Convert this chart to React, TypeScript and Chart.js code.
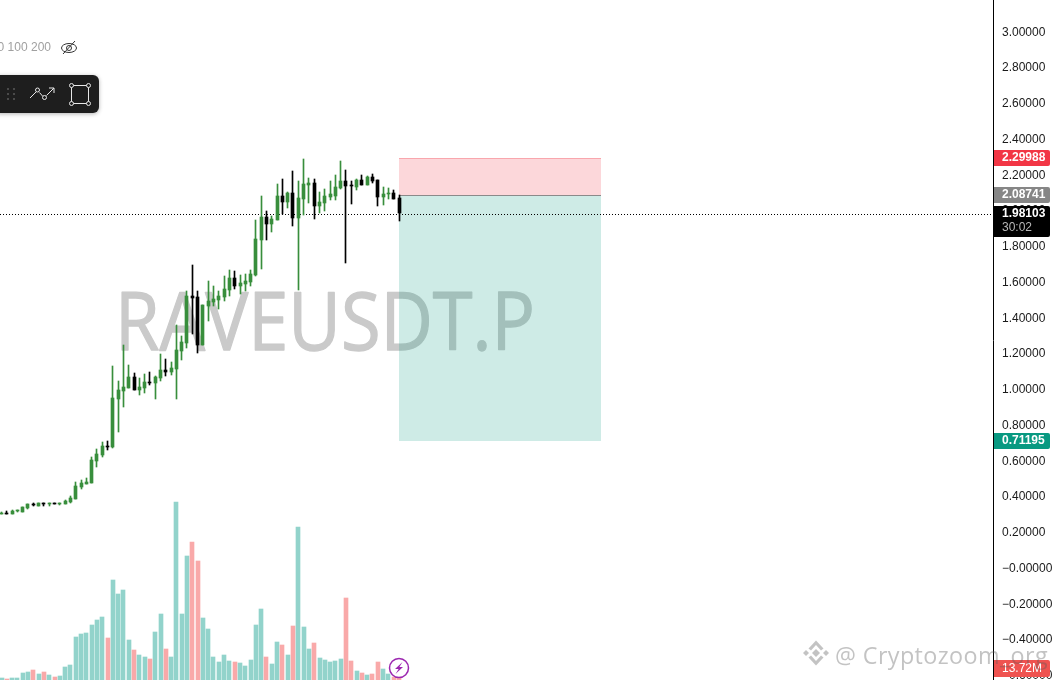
import React, { useEffect, useRef } from "react";
import { Chart, registerables } from "chart.js";

Chart.register(...registerables);

const opens = [.307,.311,.307,.321,.318,.341,.361,.350,.365,.361,.365,.361,.361,.371,.389,.456,.472,.479,.602,.636,.686,.679,.949,.994,1.010,1.072,.999,1.010,1.042,1.038,1.066,1.111,1.100,1.117,1.218,1.262,1.525,1.520,1.251,1.469,1.492,1.503,1.520,1.559,1.626,1.581,1.592,1.604,1.643,1.839,1.967,1.928,1.951,2.085,2.051,2.102,1.962,2.068,2.146,2.158,2.029,2.046,2.079,2.085,2.130,2.169,2.146,2.135,2.174,2.146,2.191,2.174,2.079,2.096,2.102,2.074];
const closes = [.313,.305,.322,.324,.345,.361,.357,.367,.360,.365,.363,.365,.376,.395,.462,.477,.483,.608,.641,.686,.682,.955,.999,1.016,1.072,.999,1.016,1.044,1.038,1.072,1.111,1.102,1.122,1.223,1.266,1.525,1.514,1.251,1.475,1.497,1.509,1.525,1.564,1.626,1.581,1.598,1.609,1.648,1.844,1.967,1.928,1.956,2.085,2.051,2.102,1.962,2.074,2.152,2.158,2.029,2.051,2.085,2.096,2.135,2.169,2.141,2.141,2.174,2.146,2.191,2.169,2.079,2.096,2.102,2.068,1.987];
const highs = [.317,.319,.328,.329,.346,.361,.369,.367,.365,.365,.365,.365,.384,.406,.483,.496,.507,.624,.669,.708,.714,1.134,1.050,1.251,1.139,1.094,1.066,1.089,1.100,1.078,1.201,1.173,1.156,1.363,1.301,1.553,1.699,1.553,1.475,1.609,1.581,1.553,1.637,1.671,1.665,1.643,1.648,1.671,1.951,2.085,2.001,1.973,2.152,2.180,2.107,2.225,2.169,2.292,2.186,2.180,2.107,2.124,2.169,2.202,2.281,2.230,2.169,2.180,2.202,2.197,2.208,2.174,2.135,2.130,2.119,2.090];
const lows = [.307,.303,.307,.318,.318,.335,.352,.350,.350,.352,.363,.356,.361,.369,.389,.445,.472,.479,.568,.626,.664,.675,.764,.904,1.010,.999,.971,.983,1.027,.949,1.050,1.078,1.083,.949,1.167,1.234,1.313,1.206,1.251,1.385,1.469,1.453,1.497,1.525,1.564,1.536,1.553,1.581,1.637,1.676,1.839,1.883,1.951,1.984,2.018,1.917,1.559,1.979,2.046,1.956,1.990,2.001,2.063,2.063,2.124,1.710,2.040,2.118,2.146,2.146,2.158,2.029,2.034,2.068,2.068,1.945];
const volumes = [2.3,1.1,2.3,2.3,8,9.1,11.4,6.8,9.1,5.7,3.4,4.6,14.8,17.1,49,52.4,53.6,62.7,68.4,71.8,47.9,114,98,102.6,45.6,34.2,28.5,26.2,23.9,54.7,75.2,35.3,26.2,202.9,75.2,141.4,157.3,135.7,70.7,58.1,26.2,20.5,28.5,21.7,20.5,19.4,16,22.8,62.7,80.9,26.2,18.2,43.3,39.9,28.5,61.6,174.4,60.4,35.3,42.2,25.1,22.8,20.5,21.7,23.9,93.5,21.7,10.3,8,5.7,6.8,20.5,12.5,6.8,3.4,13.72];
const volumeDown = [0,1,0,0,0,0,1,0,1,0,1,0,0,0,0,0,0,0,0,0,1,0,0,0,0,1,0,0,1,0,0,1,0,0,0,0,1,1,0,0,0,0,0,0,1,0,0,0,0,0,1,0,0,1,0,1,0,0,0,1,0,0,0,0,0,1,1,0,1,0,1,1,0,0,1,1];
const priceTicks = [3.2,3,2.8,2.6,2.4,2.2,2,1.8,1.6,1.4,1.2,1,0.8,0.6,0.4,0.2,0,-0.2,-0.4,-0.6];
const priceTickLabels = ["3.20000","3.00000","2.80000","2.60000","2.40000","2.20000","2.00000","1.80000","1.60000","1.40000","1.20000","1.00000","0.80000","0.60000","0.40000","0.20000","\u22120.00000","\u22120.20000","\u22120.40000","\u22120.60000"];
const stopPrice = 2.29988;
const entryPrice = 2.08741;
const lastPrice = 1.98103;
const targetPrice = 0.71195;
const countdown = "30:02";
const volumeLabel = "13.72M";
const symbolMark = "RAVEUSDT.P";
const creditMark = "@ Cryptozoom_org";
const maLengths = "50 100 200";
const toolStartIndex = 75;
const toolEndIndex = 113.1;

const FONT = '"Liberation Sans", Arial, sans-serif';
const GREEN = "#388e3c";
const indices = opens.map((_, i) => i);

function rr(c: CanvasRenderingContext2D, x: number, y: number, w: number, h: number, r: number[]) {
  c.beginPath();
  c.roundRect(x, y, w, h, r);
}

function priceTag(c: CanvasRenderingContext2D, yTop: number, h: number, bg: string, text: string, textY: number, bold = false) {
  c.fillStyle = bg;
  rr(c, 994, yTop, 56, h, [0, 2, 2, 0]);
  c.fill();
  c.fillStyle = "#ffffff";
  c.font = `${bold ? "bold " : ""}12px ${FONT}`;
  c.textAlign = "left";
  c.textBaseline = "middle";
  c.fillText(text, 1002, textY);
}

const decor = {
  id: "decor",
  afterDatasetsUpdate(chart: any) {
    chart.data.datasets.forEach((ds: any, idx: number) => {
      const meta = chart.getDatasetMeta(idx);
      meta.data.forEach((el: any) => {
        el.x = ds.snapEven ? Math.round(el.x) : Math.floor(el.x) + 0.5;
        el.y = Math.round(el.y);
        el.base = Math.round(el.base);
        if (el.y === el.base) el.y -= 1;
      });
    });
  },
  beforeDatasetsDraw(chart: any) {
    const c: CanvasRenderingContext2D = chart.ctx;
    const y = chart.scales.y;
    const x = chart.scales.x;
    c.save();
    // symbol watermark
    c.font = `80px "Open Sans", sans-serif`;
    const w = c.measureText(symbolMark).width;
    c.save();
    c.translate(115, y.getPixelForValue(0) - 218.5);
    c.scale(420 / w, 1);
    c.fillStyle = "#cacaca";
    c.strokeStyle = "#cacaca";
    c.lineWidth = 1.3;
    c.lineJoin = "round";
    c.textAlign = "left";
    c.textBaseline = "alphabetic";
    c.fillText(symbolMark, 0, 0);
    c.strokeText(symbolMark, 0, 0);
    c.restore();
    // position tool
    const x0 = Math.round(x.getPixelForValue(toolStartIndex));
    const x1 = Math.round(x.getPixelForValue(toolEndIndex));
    const ys = Math.round(y.getPixelForValue(stopPrice));
    const ye = Math.round(y.getPixelForValue(entryPrice));
    const yt = Math.round(y.getPixelForValue(targetPrice));
    c.fillStyle = "rgba(242,54,69,0.2)";
    c.fillRect(x0, ys, x1 - x0, ye - ys);
    c.fillStyle = "rgba(8,153,129,0.2)";
    c.fillRect(x0, ye, x1 - x0, yt - ye);
    c.fillStyle = "rgba(242,54,69,0.3)";
    c.fillRect(x0, ys, x1 - x0, 1);
    c.fillStyle = "#8a8a8a";
    c.fillRect(x0, ye, x1 - x0, 1);
    // last price line
    const yl = Math.floor(y.getPixelForValue(lastPrice)) + 0.5;
    c.strokeStyle = "#000000";
    c.lineWidth = 1;
    c.setLineDash([1, 2]);
    c.beginPath();
    c.moveTo(0, yl);
    c.lineTo(993, yl);
    c.stroke();
    c.restore();
  },
  afterDraw(chart: any) {
    const c: CanvasRenderingContext2D = chart.ctx;
    const y = chart.scales.y;
    c.save();
    const py = (v: number) => Math.round(y.getPixelForValue(v));
    priceTag(c, py(stopPrice) - 8, 16, "#f23645", stopPrice.toFixed(5), py(stopPrice), true);
    priceTag(c, py(entryPrice) - 8, 16, "#868686", entryPrice.toFixed(5), py(entryPrice), true);
    priceTag(c, py(targetPrice) - 8, 16, "#089981", targetPrice.toFixed(5), py(targetPrice), true);
    priceTag(c, py(lastPrice) - 8, 31, "#000000", lastPrice.toFixed(5), py(lastPrice), true);
    c.fillStyle = "#b8b8b8";
    c.font = `12px ${FONT}`;
    c.fillText(countdown, 1002, py(lastPrice) + 14);

    // everything below is chrome given in page coordinates
    c.translate(0, 20);
    priceTag(c, 660, 17, "#ef5350", volumeLabel, 669);

    // lengths & eye
    c.fillStyle = "#a0a0a0";
    c.font = `12px ${FONT}`;
    c.textAlign = "right";
    c.textBaseline = "middle";
    c.fillText(maLengths, 51, 48);
    c.strokeStyle = "#333";
    c.lineWidth = 1;
    c.beginPath();
    c.ellipse(69, 48, 7.5, 4.5, 0, 0, Math.PI * 2);
    c.stroke();
    c.beginPath();
    c.arc(69, 48, 2.5, 0, Math.PI * 2);
    c.stroke();
    c.beginPath();
    c.moveTo(63, 54);
    c.lineTo(75, 41);
    c.stroke();

    // toolbar
    c.save();
    c.shadowColor = "rgba(0,0,0,0.3)";
    c.shadowBlur = 4;
    c.shadowOffsetY = 1;
    c.fillStyle = "#1e1e1e";
    rr(c, -6, 75, 105, 38, [6]);
    c.fill();
    c.restore();
    c.fillStyle = "#4a4a4a";
    for (const dx of [8, 14]) for (const dy of [89, 94, 99]) c.fillRect(dx - 1, dy - 1, 2, 2);
    c.strokeStyle = "#e8e8e8";
    c.lineWidth = 1;
    c.beginPath();
    c.moveTo(30, 98);
    c.lineTo(36, 92);
    c.moveTo(39.5, 92.5);
    c.lineTo(42.5, 96);
    c.moveTo(46.5, 95.5);
    c.lineTo(54, 88);
    c.moveTo(49, 88);
    c.lineTo(54, 88);
    c.lineTo(54, 93);
    c.stroke();
    for (const [a, b] of [[37.5, 90], [44.5, 97.5]]) {
      c.beginPath();
      c.arc(a, b, 2, 0, Math.PI * 2);
      c.stroke();
    }
    c.beginPath();
    c.rect(71.5, 85.5, 17, 18);
    c.stroke();
    for (const [a, b] of [[71.5, 85.5], [88.5, 85.5], [71.5, 103.5], [88.5, 103.5]]) {
      c.beginPath();
      c.arc(a, b, 2, 0, Math.PI * 2);
      c.fillStyle = "#1e1e1e";
      c.fill();
      c.stroke();
    }

    // lightning badge
    c.beginPath();
    c.arc(399, 668, 9.5, 0, Math.PI * 2);
    c.fillStyle = "#ffffff";
    c.fill();
    c.strokeStyle = "#9c27b0";
    c.lineWidth = 1.5;
    c.stroke();
    c.fillStyle = "#9c27b0";
    c.beginPath();
    c.moveTo(402.5, 662);
    c.lineTo(395, 669);
    c.lineTo(398.6, 669);
    c.lineTo(395.5, 674);
    c.lineTo(403, 667);
    c.lineTo(399.4, 667);
    c.closePath();
    c.fill();

    // credit watermark
    c.fillStyle = "rgba(90,90,90,0.36)";
    const d = (cx: number, cy: number, r: number) => {
      c.beginPath();
      c.moveTo(cx, cy - r);
      c.lineTo(cx + r, cy);
      c.lineTo(cx, cy + r);
      c.lineTo(cx - r, cy);
      c.closePath();
      c.fill();
    };
    d(816, 653, 4);
    d(806, 653, 3);
    d(826, 653, 3);
    const chev = (dir: number) => {
      c.beginPath();
      c.moveTo(808.5, 653 + dir * 4.5);
      c.lineTo(816, 653 + dir * 12.5);
      c.lineTo(823.5, 653 + dir * 4.5);
      c.lineTo(821, 653 + dir * 2.5);
      c.lineTo(816, 653 + dir * 8);
      c.lineTo(811, 653 + dir * 2.5);
      c.closePath();
      c.fill();
    };
    chev(-1);
    chev(1);
    c.font = `24px "Open Sans", sans-serif`;
    (c as any).letterSpacing = "0.4px";
    c.textAlign = "left";
    c.textBaseline = "alphabetic";
    const tw = c.measureText(creditMark).width;
    c.save();
    c.translate(835, 664);
    c.scale(213 / tw, 1);
    c.fillStyle = "rgba(90,90,90,0.36)";
    c.fillText(creditMark, 0, 0);
    c.restore();
    c.restore();
  },
};

export default function App() {
  const ref = useRef<HTMLCanvasElement | null>(null);
  useEffect(() => {
    if (!ref.current) return;
    const common = { barPercentage: 1, categoryPercentage: 1, grouped: false, borderWidth: 0, minBarLength: 1 };
    const chart = new Chart(ref.current, {
      type: "bar",
      data: {
        datasets: [
          {
            ...common,
            order: 3,
            yAxisID: "yV",
            maxBarThickness: 4,
            snapEven: true,
            minBarLength: 0,
            data: indices.map((i) => ({ x: i, y: volumes[i] })),
            backgroundColor: indices.map((i) => (volumeDown[i] ? "#f9a9a9" : "#92d3cb")),
          },
          {
            ...common,
            order: 2,
            yAxisID: "y",
            maxBarThickness: 1,
            data: indices.map((i) => ({ x: i, y: [lows[i], highs[i]] })),
            backgroundColor: indices.map((i) => (closes[i] < opens[i] ? "#000000" : GREEN)),
          },
          {
            ...common,
            order: 1,
            yAxisID: "y",
            maxBarThickness: 3,
            data: indices.map((i) => ({ x: i, y: [opens[i], closes[i]] })),
            backgroundColor: indices.map((i) => (closes[i] < opens[i] ? "#000000" : GREEN)),
          },
        ] as any,
      },
      options: {
        responsive: false,
        animation: false,
        events: [],
        layout: { padding: 0 },
        plugins: { legend: { display: false }, tooltip: { enabled: false } },
        scales: {
          x: {
            type: "linear",
            display: false,
            offset: false,
            min: -1.5 / 5.3,
            max: (993 - 1.5) / 5.3,
            grid: { display: false },
          },
          y: {
            type: "linear",
            position: "right",
            min: -131.5 / 178.7,
            max: 588.5 / 178.7,
            grid: { display: false, drawTicks: false },
            border: { display: true, color: "#000000", width: 1 },
            ticks: {
              autoSkip: false,
              padding: 9,
              color: "#1a1a1a",
              font: { size: 12, family: FONT },
              callback: (_v: any, idx: number) => priceTickLabels[idx],
            },
            afterBuildTicks: (s: any) => {
              s.ticks = priceTicks.map((value) => ({ value }));
            },
            afterFit: (s: any) => {
              s.width = 65;
              s.paddingTop = 0;
              s.paddingBottom = 0;
              s.paddingLeft = 0;
              s.paddingRight = 0;
            },
          },
          yV: {
            type: "linear",
            display: false,
            min: -22.8,
            max: 798,
            grid: { display: false },
          },
        },
      } as any,
      plugins: [decor],
    });
    return () => chart.destroy();
  }, []);
  return (
    <div style={{ position: "fixed", left: 0, top: 0, width: 1058, height: 680, overflow: "hidden", background: "#fff" }}>
      <canvas ref={ref} width={1058} height={720} style={{ display: "block", marginTop: -20, width: 1058, height: 720 }} />
    </div>
  );
}
